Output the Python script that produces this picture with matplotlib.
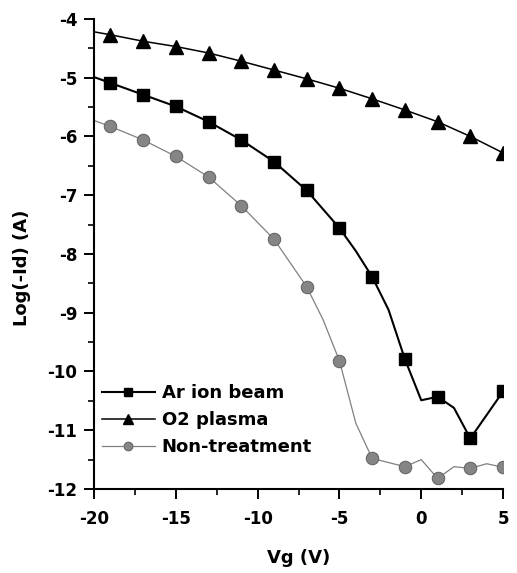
import matplotlib
matplotlib.use("Agg")
import matplotlib.pyplot as plt
from matplotlib.ticker import MultipleLocator

plt.rcParams['font.family'] = ['DejaVu Sans']
plt.rcParams['font.weight'] = 'bold'
plt.rcParams['axes.unicode_minus'] = False

# Ar ion beam (markers at odd Vg, extra points)
vg_ar = [-20, -19, -17, -15, -13, -11, -9, -7, -5, -4, -3, -2, -1, 0, 1, 2, 3, 4, 5]
id_ar = [-4.99, -5.09, -5.29, -5.49, -5.75, -6.06, -6.43, -6.92, -7.56, -7.95,
         -8.39, -8.95, -9.79, -10.49, -10.43, -10.62, -11.14, -10.74, -10.34]

# O2 plasma
vg_o2 = [-20, -19, -17, -15, -13, -11, -9, -7, -5, -3, -1, 1, 3, 5]
id_o2 = [-4.22, -4.27, -4.38, -4.47, -4.58, -4.72, -4.87, -5.02, -5.18,
         -5.36, -5.55, -5.75, -6.00, -6.28]

# Non-treatment
vg_non = [-20, -19, -17, -15, -13, -11, -9, -7, -6, -5, -4, -3, -2, -1, 0, 1, 2, 3, 4, 5]
id_non = [-5.73, -5.83, -6.06, -6.34, -6.69, -7.18, -7.75, -8.56, -9.12, -9.82,
          -10.88, -11.48, -11.55, -11.62, -11.50, -11.82, -11.62, -11.65, -11.57, -11.63]


def odd_idx(xs):
    return [i for i, v in enumerate(xs) if v % 2 != 0]


fig = plt.figure(figsize=(5.17, 5.73), dpi=100)
ax = fig.add_axes([0.182, 0.1466, 0.791, 0.8204])

ax.plot(vg_ar, id_ar, color='black', lw=1.5, marker='s', ms=9,
        markevery=odd_idx(vg_ar), label='Ar ion beam')
ax.plot(vg_o2, id_o2, color='black', lw=1.1, marker='^', ms=10,
        markevery=odd_idx(vg_o2), label='O2 plasma')
ax.plot(vg_non, id_non, color='#808080', lw=0.9, marker='o', ms=9,
        mfc='#858585', mec='#606060', mew=0.7,
        markevery=odd_idx(vg_non), label='Non-treatment')

ax.set_xlim(-20, 5)
ax.set_ylim(-12, -4)
ax.xaxis.set_major_locator(MultipleLocator(5))
ax.xaxis.set_minor_locator(MultipleLocator(2.5))
ax.yaxis.set_major_locator(MultipleLocator(1))
ax.yaxis.set_minor_locator(MultipleLocator(0.5))

for s in ['top', 'right']:
    ax.spines[s].set_visible(False)
for s in ['left', 'bottom']:
    ax.spines[s].set_linewidth(1.5)

ax.tick_params(which='major', direction='out', length=7, width=1.4,
               labelsize=12, pad=5)
ax.tick_params(axis='x', which='major', pad=8)
ax.tick_params(which='minor', direction='out', length=4, width=1.2)
for lab in ax.get_xticklabels() + ax.get_yticklabels():
    lab.set_fontweight('bold')

ax.set_xlabel('Vg (V)', fontsize=13, fontweight='bold', labelpad=15)
ax.set_ylabel('Log(-Id) (A)', fontsize=13, fontweight='bold')
ax.yaxis.set_label_coords(-0.154, 0.47)

ax.legend(loc='center left', bbox_to_anchor=(0.02, 0.147), frameon=False,
          handlelength=2.9, handletextpad=0.4, labelspacing=0.5,
          borderpad=0, borderaxespad=0, markerscale=0.7,
          prop={'weight': 'bold', 'size': 13})

fig.savefig('out.png', dpi=100)
